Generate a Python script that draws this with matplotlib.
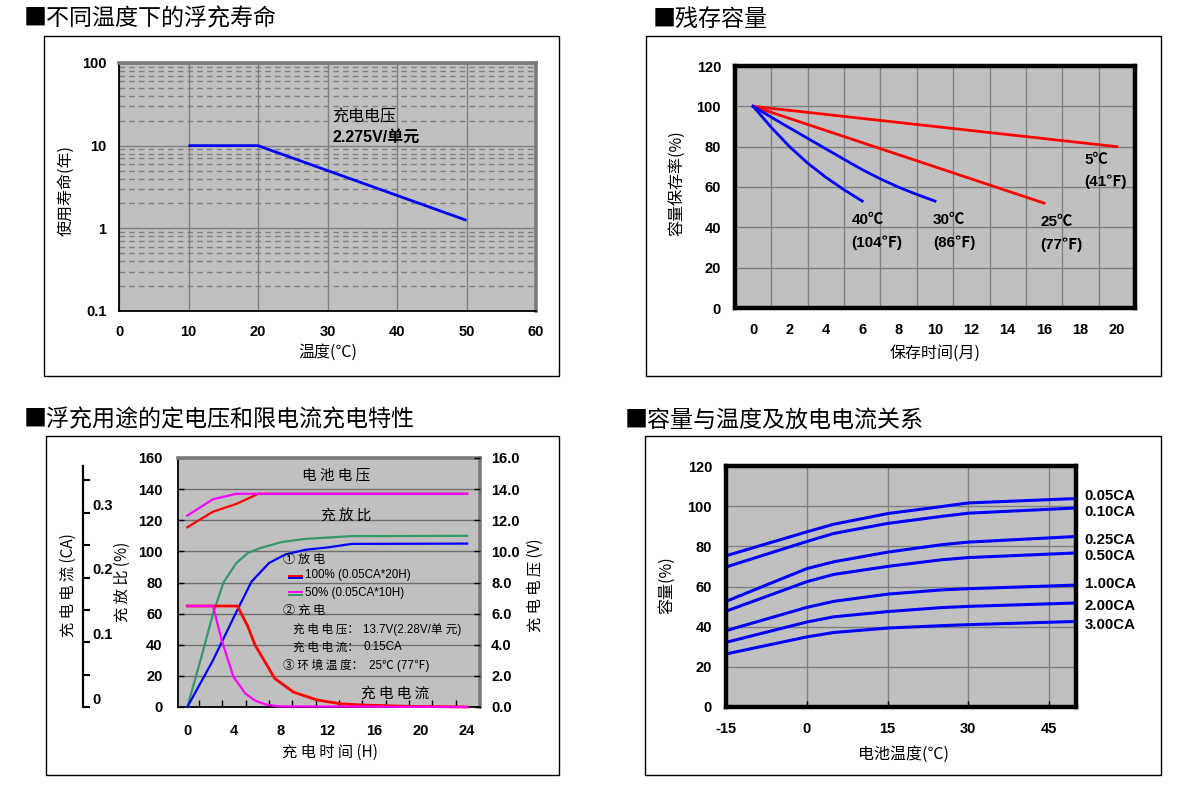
import matplotlib
matplotlib.use('Agg')
import matplotlib.pyplot as plt
from matplotlib.patches import Rectangle
from matplotlib.ticker import FixedLocator, NullFormatter
from matplotlib.transforms import blended_transform_factory

W, H = 1187, 797
DPI = 100
plt.rcParams['font.family'] = ['Liberation Sans', 'Noto Sans CJK SC', 'DejaVu Sans']
CJK = ['Noto Sans CJK SC', 'Liberation Sans', 'DejaVu Sans']
NUM = ['Liberation Sans', 'Noto Sans CJK SC', 'DejaVu Sans']

# ---------------- data ----------------
# panel 1: float life vs temperature
p1_temp = [10, 20, 50]
p1_life = [10, 10, 1.25]
p1_xticks = [0, 10, 20, 30, 40, 50, 60]
p1_yticks = [0.1, 1, 10, 100]
p1_yticklabels = ['0.1', '1', '10', '100']

# panel 2: residual capacity vs storage time
p2_m_5c = [0, 20]
p2_c_5c = [100, 80]
p2_m_25c = [0, 16]
p2_c_25c = [100, 52]
p2_m_30c = [0, 1, 2, 3, 4, 5, 6, 7, 8, 9, 10]
p2_c_30c = [100, 94.6, 89.3, 84.1, 78.9, 73.7, 68.6, 64.0, 59.9, 56.3, 53]
p2_m_40c = [0, 1, 2, 3, 4, 5, 6]
p2_c_40c = [100, 89.5, 80, 71.8, 64.8, 58.6, 53]
p2_xticks = [0, 2, 4, 6, 8, 10, 12, 14, 16, 18, 20]
p2_xgrid = [1, 3, 5, 7, 9, 11, 13, 15, 17, 19]
p2_yticks = [0, 20, 40, 60, 80, 100, 120]
p2_label_text = ['5℃', '(41℉)', '40℃', '(104℉)', '30℃', '(86℉)', '25℃', '(77℉)']
p2_label_x = [18.2, 18.2, 5.4, 5.4, 9.9, 9.9, 15.8, 15.8]
p2_label_y = [73.5, 62.5, 43.5, 32.5, 43.5, 32.5, 42.5, 31.5]

# panel 3: charging characteristics
p3_h_volt100 = [0, 2.2, 4.2, 6.1, 24]
p3_volt100 = [11.55, 12.55, 13.05, 13.7, 13.7]
p3_h_volt50 = [0, 2.2, 4.2, 24]
p3_volt50 = [12.3, 13.35, 13.7, 13.7]
p3_h_ratio100 = [0, 2.2, 4.2, 5.5, 7, 8.4, 10.1, 12.1, 14.1, 24]
p3_ratio100 = [0, 30, 61, 80.5, 92.5, 98, 101, 102.6, 104.8, 105]
p3_h_ratio50 = [0, 1.2, 2.2, 3.1, 4.2, 5.2, 6.2, 8.1, 10.1, 14.1, 24]
p3_ratio50 = [0, 32, 60, 80, 92.5, 99, 102, 106, 108, 109.8, 110]
p3_h_cur100 = [0, 4.3, 5.2, 5.8, 7.5, 9.1, 11.1, 13.1, 15.1, 19, 24]
p3_cur100 = [0.156, 0.156, 0.124, 0.096, 0.044, 0.023, 0.011, 0.005, 0.003, 0.001, 0.0]
p3_h_cur50 = [0, 2.2, 2.95, 3.95, 4.96, 5.8, 6.7, 7.8, 24]
p3_cur50 = [0.156, 0.156, 0.103, 0.047, 0.021, 0.010, 0.004, 0.001, 0.0]
p3_xticks = [0, 4, 8, 12, 16, 20, 24]
p3_yticks = [0, 20, 40, 60, 80, 100, 120, 140, 160]
p3_vticks = [0, 2, 4, 6, 8, 10, 12, 14, 16]
p3_caticks = [0, 0.05, 0.10, 0.15, 0.20, 0.25, 0.30, 0.35]
p3_calabels = ['0', '0.1', '0.2', '0.3']
p3_calabel_vals = [0, 0.1, 0.2, 0.3]

# panel 4: capacity vs temperature & discharge current
p4_temp = [-15, 0, 5, 15, 25, 30, 50]
p4_cap_005 = [75.3, 87.2, 91.0, 96.3, 99.8, 101.6, 103.8]
p4_cap_010 = [69.7, 82.4, 86.4, 91.4, 94.9, 96.5, 99.1]
p4_cap_025 = [52.6, 68.9, 72.3, 77.1, 80.8, 82.1, 84.9]
p4_cap_050 = [47.7, 62.4, 66.0, 70.0, 73.3, 74.4, 76.7]
p4_cap_100 = [38.0, 49.6, 52.6, 56.2, 58.3, 58.9, 60.7]
p4_cap_200 = [32.2, 42.3, 44.9, 47.5, 49.5, 50.1, 51.8]
p4_cap_300 = [26.4, 34.9, 37.1, 39.3, 40.5, 41.0, 42.6]
p4_names = ['0.05CA', '0.10CA', '0.25CA', '0.50CA', '1.00CA', '2.00CA', '3.00CA']
p4_label_y = [105.0, 97.2, 83.2, 75.4, 61.0, 50.4, 41.0]
p4_xticks = [-15, 0, 15, 30, 45]
p4_yticks = [0, 20, 40, 60, 80, 100, 120]

# ---------------- helpers ----------------
BG = '#C0C0C0'
GRID = '#808080'
LS = 11.5   # axis label size

fig = plt.figure(figsize=(W / DPI, H / DPI), dpi=DPI)
fig.patch.set_facecolor('white')


def fig_axes(x0, y0, x1, y1):
    return fig.add_axes([x0 / W, 1 - y1 / H, (x1 - x0) / W, (y1 - y0) / H])


def ftext(x, y, s, **kw):
    return fig.text(x / W, 1 - y / H, s, **kw)


def box(x0, y0, x1, y1):
    fig.add_artist(Rectangle((x0 / W, 1 - y1 / H), (x1 - x0) / W, (y1 - y0) / H,
                             transform=fig.transFigure, fill=False,
                             edgecolor='black', linewidth=1.0))


def bold_ticks(ax, which='both'):
    labs = []
    if which in ('both', 'x'):
        labs += ax.get_xticklabels()
    if which in ('both', 'y'):
        labs += ax.get_yticklabels()
    for t in labs:
        t.set_fontweight('bold')
        t.set_fontsize(10.5)
        t.set_family(NUM)


def frame3d(ax):
    for s in ('top', 'right'):
        ax.spines[s].set_color('#7a7a7a')
        ax.spines[s].set_linewidth(2.6)
    for s in ('left', 'bottom'):
        ax.spines[s].set_color('black')
        ax.spines[s].set_linewidth(1.3)


def thick_frame(ax):
    for s in ax.spines.values():
        s.set_color('black')
        s.set_linewidth(3.2)


# panel boxes and titles
box(44, 36, 559, 376)
box(646, 36, 1161, 376)
box(46, 436, 559, 775)
box(645, 436, 1161, 775)
TS = 16.6
ftext(24, 19, '■不同温度下的浮充寿命', family=CJK, fontsize=TS, va='center')
ftext(653, 19, '■残存容量', family=CJK, fontsize=TS, va='center')
ftext(24, 420, '■浮充用途的定电压和限电流充电特性', family=CJK, fontsize=TS, va='center')
ftext(625, 420, '■容量与温度及放电电流关系', family=CJK, fontsize=TS, va='center')

# ---------------- panel 1 ----------------
ax1 = fig_axes(119, 63, 536, 311)
ax1.set_facecolor(BG)
ax1.set_yscale('log')
ax1.set_xlim(0, 60)
ax1.set_ylim(0.1, 100)
ax1.set_xticks(p1_xticks)
ax1.set_xticklabels([str(v) for v in p1_xticks])
ax1.set_yticks(p1_yticks)
ax1.set_yticklabels(p1_yticklabels)
minor = [k * 10.0 ** e for e in (-1, 0, 1) for k in range(2, 10)]
ax1.yaxis.set_minor_locator(FixedLocator(minor))
ax1.yaxis.set_minor_formatter(NullFormatter())
ax1.tick_params(which='both', length=0)
ax1.tick_params(axis='x', pad=10)
ax1.tick_params(axis='y', pad=9)
ax1.grid(which='major', color=GRID, linewidth=1.0)
ax1.grid(which='minor', axis='y', color=GRID, linewidth=1.0, linestyle=(0, (4, 3)))
ax1.set_axisbelow(True)
frame3d(ax1)
bold_ticks(ax1)
ax1.plot(p1_temp, p1_life, color='#0000FF', linewidth=2.0, solid_capstyle='butt')
ax1.text(30.7, 22.5, '充电电压', family=CJK, fontsize=LS, va='center')
ax1.text(30.7, 12.8, '2.275V/单元', family=NUM, fontsize=LS, fontweight='bold', va='center')
ftext(328, 352, '温度(℃)', family=CJK, fontsize=LS, ha='center', va='center')
ftext(66, 190, '使用寿命(年)', family=CJK, fontsize=LS, ha='center', va='center', rotation=90)

# ---------------- panel 2 ----------------
ax2 = fig_axes(735, 66, 1135, 308)
ax2.set_facecolor(BG)
ax2.set_xlim(-1, 21)
ax2.set_ylim(0, 120)
ax2.set_xticks(p2_xticks)
ax2.set_xticklabels([str(v) for v in p2_xticks])
ax2.set_xticks(p2_xgrid, minor=True)
ax2.set_yticks(p2_yticks)
ax2.set_yticklabels([str(v) for v in p2_yticks])
ax2.tick_params(which='both', length=0)
ax2.tick_params(axis='x', pad=11)
ax2.tick_params(axis='y', pad=10)
ax2.grid(which='minor', axis='x', color=GRID, linewidth=1.0)
ax2.grid(which='major', axis='y', color=GRID, linewidth=1.0)
ax2.set_axisbelow(True)
thick_frame(ax2)
bold_ticks(ax2)
ax2.plot(p2_m_5c, p2_c_5c, color='#FF0000', linewidth=2.0)
ax2.plot(p2_m_25c, p2_c_25c, color='#FF0000', linewidth=2.0)
ax2.plot(p2_m_30c, p2_c_30c, color='#0000FF', linewidth=2.0)
ax2.plot(p2_m_40c, p2_c_40c, color='#0000FF', linewidth=2.0)
for s, x, y in zip(p2_label_text, p2_label_x, p2_label_y):
    ax2.text(x, y, s, family=NUM, fontsize=11, fontweight='bold', va='center', ha='left')
ftext(935, 353, '保存时间(月)', family=CJK, fontsize=LS, ha='center', va='center')
ftext(677, 183, '容量保存率(%)', family=CJK, fontsize=LS, ha='center', va='center', rotation=90)

# ---------------- panel 3 ----------------
ax3 = fig_axes(178, 458, 480, 707)
ax3.set_facecolor(BG)
ax3.set_xlim(-0.8, 25.1)
ax3.set_ylim(0, 160)
ax3.set_xticks(p3_xticks)
ax3.set_xticklabels([str(v) for v in p3_xticks])
ax3.set_xticks([v + 1 for v in range(0, 24, 2)], minor=True)
ax3.set_yticks(p3_yticks)
ax3.set_yticklabels([str(v) for v in p3_yticks])
ax3.tick_params(axis='x', which='major', length=0, pad=12)
ax3.tick_params(axis='x', which='minor', direction='in', length=5, width=1, color='black')
ax3.tick_params(axis='y', which='major', direction='in', length=4, width=1, color='black', pad=11)
ax3.grid(which='major', axis='y', color='#6e6e6e', linewidth=1.0)
ax3.set_axisbelow(True)
frame3d(ax3)
bold_ticks(ax3)

axv = ax3.twinx()
axv.set_ylim(0, 16)
axv.set_yticks(p3_vticks)
axv.set_yticklabels(['%.1f' % v for v in p3_vticks])
axv.tick_params(axis='y', direction='in', length=4, width=1, color='black', pad=8)
for s in axv.spines.values():
    s.set_visible(False)
bold_ticks(axv, 'y')

axc = ax3.twinx()
axc.set_ylim(0, 160 / 416)
axc.yaxis.set_ticks_position('left')
axc.spines['left'].set_position(('axes', -0.315))
axc.spines['left'].set_bounds(0, 0.372)
axc.spines['left'].set_linewidth(1.6)
for s in ('right', 'top', 'bottom'):
    axc.spines[s].set_visible(False)
axc.set_yticks(p3_caticks)
axc.set_yticklabels([])
axc.tick_params(axis='y', direction='in', length=5, width=1.5, color='black')
for s, v in zip(p3_calabels, p3_calabel_vals):
    axc.text(-0.285, v + 0.011, s, transform=blended_transform_factory(axc.transAxes, axc.transData),
             family=NUM, fontsize=10.5, fontweight='bold', va='center', ha='left', clip_on=False)

# charge ratio on left axis
ax3.plot(p3_h_ratio50, p3_ratio50, color='#339966', linewidth=1.6, clip_on=False, zorder=3)
ax3.plot(p3_h_ratio100, p3_ratio100, color='#0000FF', linewidth=1.6, clip_on=False, zorder=3)
# voltage on right axis
axv.plot(p3_h_volt100, p3_volt100, color='#FF0000', linewidth=1.6)
axv.plot(p3_h_volt50, p3_volt50, color='#FF00FF', linewidth=1.6)
# current on CA axis
axc.plot(p3_h_cur100, p3_cur100, color='#FF0000', linewidth=2.0, clip_on=False)
axc.plot(p3_h_cur50, p3_cur50, color='#FF00FF', linewidth=1.6, clip_on=False)

# legend keys
ax3.plot([8.74, 9.83], [84.4, 84.4], color='#FF0000', linewidth=1.4)
ax3.plot([8.74, 9.83], [82.6, 82.6], color='#0000FF', linewidth=1.4)
ax3.plot([8.74, 9.83], [73.6, 73.6], color='#FF00FF', linewidth=1.4)
ax3.plot([8.74, 9.83], [71.8, 71.8], color='#339966', linewidth=1.4)

ax3.text(12.8, 149, '电 池 电 压', family=CJK, fontsize=10.5, ha='center', va='center')
ax3.text(13.6, 122.5, '充 放 比', family=CJK, fontsize=10.5, ha='center', va='center')
ax3.text(17.8, 8.5, '充 电 电 流', family=CJK, fontsize=10.5, ha='center', va='center')
AF = 8.4
ax3.text(8.2, 95, '① 放 电', family=CJK, fontsize=AF + 0.4, va='center')
ax3.text(10.05, 84.5, '100% (0.05CA*20H)', family=NUM, fontsize=AF, va='center')
ax3.text(10.05, 73.5, '50% (0.05CA*10H)', family=NUM, fontsize=AF, va='center')
ax3.text(8.2, 62, '② 充 电', family=CJK, fontsize=AF + 0.4, va='center')
ax3.text(9.1, 50, '充 电 电 压：', family=CJK, fontsize=AF, va='center')
ax3.text(15.1, 50, '13.7V(2.28V/单 元)', family=NUM, fontsize=AF, va='center')
ax3.text(9.1, 38.3, '充 电 电 流：', family=CJK, fontsize=AF, va='center')
ax3.text(15.1, 38.3, '0.15CA', family=NUM, fontsize=AF, va='center')
ax3.text(8.2, 26.5, '③ 环 境 温 度：', family=CJK, fontsize=AF, va='center')
ax3.text(15.6, 26.5, '25℃ (77℉)', family=NUM, fontsize=AF, va='center')

ftext(330, 752, '充 电 时 间 (H)', family=CJK, fontsize=11, ha='center', va='center')
ftext(122, 582, '充 放 比 (%)', family=CJK, fontsize=11, ha='center', va='center', rotation=90)
ftext(68, 585, '充 电 电 流 (CA)', family=CJK, fontsize=11, ha='center', va='center', rotation=90)
ftext(535, 585, '充 电 电 压 (V)', family=CJK, fontsize=11, ha='center', va='center', rotation=90)

# ---------------- panel 4 ----------------
ax4 = fig_axes(726, 466, 1076, 707)
ax4.set_facecolor(BG)
ax4.set_xlim(-15, 50)
ax4.set_ylim(0, 120)
ax4.set_xticks(p4_xticks)
ax4.set_xticklabels([str(v) for v in p4_xticks])
ax4.set_yticks(p4_yticks)
ax4.set_yticklabels([str(v) for v in p4_yticks])
ax4.tick_params(axis='x', direction='in', length=4, width=1, color='black', pad=11)
ax4.tick_params(axis='y', length=0, pad=10)
ax4.grid(which='major', color=GRID, linewidth=1.0)
ax4.set_axisbelow(True)
thick_frame(ax4)
bold_ticks(ax4)
for series in (p4_cap_005, p4_cap_010, p4_cap_025, p4_cap_050, p4_cap_100, p4_cap_200, p4_cap_300):
    ax4.plot(p4_temp, series, color='#0000FF', linewidth=2.2, clip_on=False)
for name, y in zip(p4_names, p4_label_y):
    ax4.text(51.6, y, name, family=NUM, fontsize=10.8, fontweight='bold', va='center', ha='left',
             clip_on=False)
ftext(903, 754, '电池温度(℃)', family=CJK, fontsize=LS, ha='center', va='center')
ftext(667, 585, '容量(%)', family=CJK, fontsize=LS, ha='center', va='center', rotation=90)

fig.savefig('out.png', dpi=DPI)
